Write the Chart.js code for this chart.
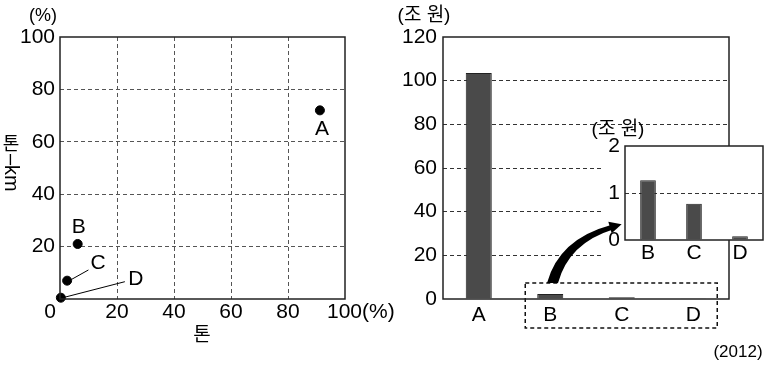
<!DOCTYPE html>
<html lang="ko">
<head>
<meta charset="utf-8">
<script src="https://cdn.jsdelivr.net/npm/chart.js@4.4.1/dist/chart.umd.min.js"></script>
<style>
  body { margin: 0; background: #fff; }
  #wrap { position: relative; width: 781px; height: 366px; }
  canvas { position: absolute; }
</style>
</head>
<body>
<div id="wrap">
  <canvas id="scatterChart" width="400" height="366" style="left:0;top:0"></canvas>
  <canvas id="barChart" width="411" height="366" style="left:370px;top:0"></canvas>
  <canvas id="insetChart" width="200" height="160" style="left:580px;top:110px"></canvas>
</div>
<script>
// --- dados ---
const pointNames = ['A', 'B', 'C', 'D'];
const tonShare = [91.2, 6.2, 2.5, 0.3];      // 톤 (%)
const tonKmShare = [72, 21, 7, 0.5];         // 톤-km (%)
const pctTicks = [0, 20, 40, 60, 80, 100];

const barNames = ['A', 'B', 'C', 'D'];
const revenue = [103.5, 2.3, 0.8, 0.3];      // 조 원
const wonTicks = [0, 20, 40, 60, 80, 100, 120];

const insetNames = ['B', 'C', 'D'];
const insetRevenue = [1.27, 0.77, 0.08];
const insetTicks = [0, 1, 2];

const FONT = "'Liberation Sans', 'Noto Sans CJK KR', sans-serif";
const TICK = 21;
Chart.defaults.font.family = FONT;
Chart.defaults.color = '#000';

// linhas de grade tracejadas, sem as das bordas
const gridColor = (ticks, col) => (ctx) => {
    const v = ctx.tick ? ctx.tick.value : null;
    return (v === ticks[0] || v === ticks[ticks.length - 1]) ? 'rgba(0,0,0,0)' : col;
};

const framePlugin = {
    id: 'frame',
    afterDraw(chart) {
        const { ctx, chartArea: a } = chart;
        ctx.save();
        ctx.strokeStyle = '#222';
        ctx.lineWidth = 1.5;
        ctx.strokeRect(a.left, a.top, a.right - a.left, a.bottom - a.top);
        ctx.restore();
    }
};

// --- gráfico da esquerda (dispersão) ---
const scatterLabels = {
    id: 'scatterLabels',
    afterDraw(chart) {
        const { ctx, chartArea: a } = chart;
        const xs = chart.scales.x;
        const pts = chart.getDatasetMeta(0).data;
        ctx.save();
        ctx.fillStyle = '#000';
        ctx.strokeStyle = '#000';
        ctx.lineWidth = 1;
        ctx.font = TICK + 'px ' + FONT;
        ctx.textAlign = 'center';
        ctx.textBaseline = 'middle';
        const A = pts[0], B = pts[1], C = pts[2], D = pts[3];
        ctx.fillText(pointNames[0], A.x + 2, A.y + 19);
        ctx.fillText(pointNames[1], B.x + 1, B.y - 17);
        ctx.fillText(pointNames[2], C.x + 31, C.y - 17);
        ctx.fillText(pointNames[3], D.x + 75, D.y - 18);
        ctx.beginPath();
        ctx.moveTo(C.x + 4.7, C.y - 1.4); ctx.lineTo(C.x + 21.3, C.y - 10.7);
        ctx.moveTo(D.x + 2, D.y); ctx.lineTo(D.x + 64, D.y - 16);
        ctx.stroke();

        // rótulos extremos do eixo x
        const yLab = a.bottom + 13;
        ctx.fillText('0', xs.getPixelForValue(0) - 10, yLab);
        ctx.textAlign = 'left';
        ctx.fillText('100(%)', xs.getPixelForValue(100) - 18, yLab);

        // unidades e títulos
        ctx.textAlign = 'center';
        ctx.font = '18px ' + FONT;
        ctx.fillText('(%)', 43, 16);
        ctx.font = '19px ' + FONT;
        ctx.fillText('톤', 202, 336);
        ctx.font = '18px ' + FONT;
        ctx.fillText('톤', 11, 145);
        ctx.translate(11, 154);
        ctx.rotate(Math.PI / 2);
        ctx.font = '20px ' + FONT;
        ctx.textAlign = 'left';
        ctx.fillText('–km', 0, 0);
        ctx.restore();
    }
};

new Chart(document.getElementById('scatterChart'), {
    type: 'scatter',
    data: {
        datasets: [{
            data: tonShare.map((x, i) => ({ x, y: tonKmShare[i] })),
            backgroundColor: '#000', borderColor: '#000',
            pointRadius: 4.5, borderWidth: 1, clip: false
        }]
    },
    options: {
        responsive: false, animation: false,
        layout: { padding: { top: 37, right: 55, left: 0, bottom: 0 } },
        plugins: { legend: { display: false }, tooltip: { enabled: false } },
        scales: {
            x: {
                type: 'linear', min: 0, max: 100,
                afterBuildTicks: s => { s.ticks = pctTicks.map(v => ({ value: v })); },
                ticks: { callback: v => (v === 0 || v === 100) ? '' : v, maxRotation: 0, padding: 1, font: { size: TICK } },
                grid: { color: gridColor(pctTicks, '#555'), drawTicks: false },
                border: { display: false, dash: [4, 3] },
                afterFit: s => { s.height = 67; }
            },
            y: {
                type: 'linear', min: 0, max: 100,
                afterBuildTicks: s => { s.ticks = pctTicks.map(v => ({ value: v })); },
                ticks: { callback: v => v === 0 ? '' : v, padding: 5, font: { size: TICK } },
                grid: { color: gridColor(pctTicks, '#555'), drawTicks: false },
                border: { display: false, dash: [4, 3] },
                afterFit: s => { s.width = 60; }
            }
        }
    },
    plugins: [framePlugin, scatterLabels]
});

// --- gráfico da direita (barras) ---
const barExtras = {
    id: 'barExtras',
    beforeDatasetsDraw(chart) {
        // área branca atrás do gráfico ampliado
        const { ctx, chartArea: a } = chart;
        ctx.save();
        ctx.fillStyle = '#fff';
        ctx.fillRect(233, 138, a.right - 233, 132);
        ctx.restore();
    },
    afterDraw(chart) {
        const { ctx, chartArea: a } = chart;
        const xs = chart.scales.x;
        ctx.save();
        // caixa tracejada em volta de B, C, D
        ctx.strokeStyle = '#111';
        ctx.lineWidth = 1.5;
        ctx.setLineDash([4, 3]);
        const bx = xs.getPixelForValue(1) - 25;
        const ex = xs.getPixelForValue(3) + 24;
        ctx.strokeRect(bx, a.bottom - 16, ex - bx, 45);
        ctx.setLineDash([]);

        // seta curva
        ctx.fillStyle = '#000';
        ctx.beginPath();
        ctx.moveTo(177, 283);
        ctx.quadraticCurveTo(189, 239, 241, 225);
        ctx.lineTo(243, 229.5);
        ctx.quadraticCurveTo(199, 243, 188, 283);
        ctx.closePath();
        ctx.fill();
        ctx.beginPath();
        ctx.moveTo(251.6, 224.2);
        ctx.lineTo(238.3, 221.8);
        ctx.lineTo(241.7, 233.3);
        ctx.closePath();
        ctx.fill();

        ctx.font = '19px ' + FONT;
        ctx.textAlign = 'center';
        ctx.textBaseline = 'middle';
        ctx.fillText('(조 원)', 54, 16);
        ctx.font = '17px ' + FONT;
        ctx.fillText('(2012)', 368, 352);
        ctx.restore();
    }
};

new Chart(document.getElementById('barChart'), {
    type: 'bar',
    data: {
        labels: barNames,
        datasets: [{
            data: revenue,
            backgroundColor: '#4a4a4a', borderColor: '#222', borderWidth: 1,
            barPercentage: 0.364, categoryPercentage: 1
        }]
    },
    options: {
        responsive: false, animation: false,
        layout: { padding: { top: 37, right: 52, left: 0, bottom: 0 } },
        plugins: { legend: { display: false }, tooltip: { enabled: false } },
        scales: {
            x: {
                ticks: { padding: 4, font: { size: TICK } },
                grid: { display: false, drawTicks: false },
                border: { display: false },
                afterFit: s => { s.height = 67; }
            },
            y: {
                min: 0, max: 120,
                afterBuildTicks: s => { s.ticks = wonTicks.map(v => ({ value: v })); },
                ticks: { padding: 6, font: { size: TICK } },
                grid: { color: gridColor(wonTicks, '#333'), drawTicks: false },
                border: { display: false, dash: [4, 3] },
                afterFit: s => { s.width = 73; }
            }
        }
    },
    plugins: [barExtras, framePlugin]
});

// --- gráfico ampliado (B, C, D) ---
const insetBg = {
    id: 'insetBg',
    beforeDraw(chart) {
        const { ctx, chartArea: a } = chart;
        ctx.save();
        ctx.fillStyle = '#fff';
        ctx.fillRect(a.left, a.top, a.right - a.left, a.bottom - a.top);
        ctx.font = '19px ' + FONT;
        ctx.fillStyle = '#000';
        ctx.textAlign = 'center';
        ctx.textBaseline = 'middle';
        ctx.fillText('(조 원)', 38, 20);
        ctx.restore();
    }
};

new Chart(document.getElementById('insetChart'), {
    type: 'bar',
    data: {
        labels: insetNames,
        datasets: [{
            data: insetRevenue,
            backgroundColor: '#4a4a4a', borderColor: '#222', borderWidth: 1,
            barPercentage: 0.34, categoryPercentage: 1
        }]
    },
    options: {
        responsive: false, animation: false,
        layout: { padding: { top: 36, right: 17, left: 0, bottom: 0 } },
        plugins: { legend: { display: false }, tooltip: { enabled: false } },
        scales: {
            x: {
                ticks: { padding: 1, font: { size: TICK } },
                grid: { display: false, drawTicks: false },
                border: { display: false },
                afterFit: s => { s.height = 30; }
            },
            y: {
                min: 0, max: 2,
                afterBuildTicks: s => { s.ticks = insetTicks.map(v => ({ value: v })); },
                ticks: { padding: 5, font: { size: TICK } },
                grid: { color: gridColor(insetTicks, '#333'), drawTicks: false },
                border: { display: false, dash: [4, 3] },
                afterFit: s => { s.width = 45; }
            }
        }
    },
    plugins: [insetBg, framePlugin]
});
</script>
</body>
</html>
